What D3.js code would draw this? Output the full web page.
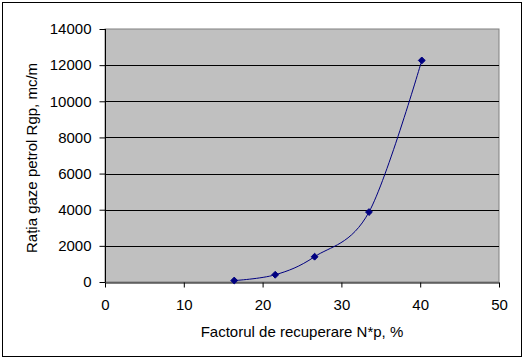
<!DOCTYPE html>
<html>
<head>
<meta charset="utf-8">
<script src="https://cdn.jsdelivr.net/npm/d3@7"></script>
<style>
  body { margin: 0; background: #fff; }
  text { font-family: "Liberation Sans", Arial, sans-serif; fill: #000; }
</style>
</head>
<body>
<div class="chart"></div>
<script>
// values
const factor = [16.4, 21.6, 26.6, 33.5, 40.2];     // N*p, %
const ratio_gp = [80, 400, 1400, 3870, 12260];    // Rgp, mc/m3
const x_ticks = [0, 10, 20, 30, 40, 50];
const y_ticks = [0, 2000, 4000, 6000, 8000, 10000, 12000, 14000];

const W = 528, H = 363;
const margin = { top: 29, right: 29, bottom: 81, left: 105 };
const width = W - margin.left - margin.right;
const height = H - margin.top - margin.bottom;
const font_size = 15;

const svg = d3.select('.chart')
    .append('svg')
    .attr('width', W)
    .attr('height', H);

// outer frame
svg.append('rect')
    .attr('x', 2.5).attr('y', 2.5)
    .attr('width', 519).attr('height', 354)
    .attr('fill', '#fff')
    .attr('stroke', '#000');

const g = svg.append('g')
    .attr('transform', 'translate(' + margin.left + ',' + margin.top + ')');

const x_scale = d3.scaleLinear().domain([0, 50]).range([0, width]);
const y_scale = d3.scaleLinear().domain([0, 14000]).range([height, 0]);

// plot area
g.append('rect')
    .attr('width', width)
    .attr('height', height)
    .attr('fill', '#c0c0c0')
    .attr('stroke', '#808080');

// gridlines
g.selectAll('line.grid')
    .data(y_ticks.filter(function(d) { return d > 0 && d < 14000; }))
    .enter()
    .append('line')
    .attr('class', 'grid')
    .attr('x1', 0).attr('x2', width)
    .attr('y1', function(d) { return Math.round(y_scale(d)) + 0.5; })
    .attr('y2', function(d) { return Math.round(y_scale(d)) + 0.5; })
    .attr('stroke', '#000');

// axes
const x_axis = g.append('g')
    .attr('transform', 'translate(0,' + (height + 0.5) + ')')
    .call(d3.axisBottom(x_scale).tickValues(x_ticks).tickFormat(d3.format('d'))
        .tickSize(5).tickSizeOuter(0).tickPadding(12));

const y_axis = g.append('g')
    .attr('transform', 'translate(0.5,0)')
    .call(d3.axisLeft(y_scale).tickValues(y_ticks).tickFormat(d3.format('d'))
        .tickSize(6).tickSizeOuter(0).tickPadding(8));

[x_axis, y_axis].forEach(function(a) {
    a.select('.domain').attr('stroke', '#000');
    a.selectAll('.tick line').attr('stroke', '#000');
    a.selectAll('.tick text')
        .attr('font-size', font_size)
        .style('font-family', '"Liberation Sans", Arial, sans-serif')
        .attr('fill', '#000');
});
y_axis.select('.domain').remove();
y_axis.append('line').attr('y1', 0).attr('y2', height).attr('stroke', '#000');

// smoothed line (Excel-style smoothing)
const line = d3.line()
    .x(function(d, i) { return x_scale(factor[i]); })
    .y(function(d) { return y_scale(d); })
    .curve(d3.curveCatmullRom.alpha(0));

g.append('path')
    .datum(ratio_gp)
    .attr('d', line)
    .attr('fill', 'none')
    .attr('stroke', '#000080')
    .attr('stroke-width', 1);

// diamond markers
g.selectAll('path.marker')
    .data(ratio_gp)
    .enter()
    .append('path')
    .attr('class', 'marker')
    .attr('d', d3.symbol().type(d3.symbolDiamond2).size(30))
    .attr('transform', function(d, i) {
        return 'translate(' + x_scale(factor[i]) + ',' + y_scale(d) + ')';
    })
    .attr('fill', '#000080')
    .attr('stroke', '#000080');

// titles
svg.append('text')
    .attr('x', margin.left + width / 2)
    .attr('y', 337)
    .attr('text-anchor', 'middle')
    .attr('font-size', font_size)
    .text('Factorul de recuperare N*p, %');

// y title (cut off at the top in the original)
svg.append('text')
    .attr('transform', 'translate(37,253) rotate(-90)')
    .attr('text-anchor', 'start')
    .attr('font-size', font_size)
    .text('Rația gaze petrol Rgp, mc/m');
</script>
</body>
</html>
